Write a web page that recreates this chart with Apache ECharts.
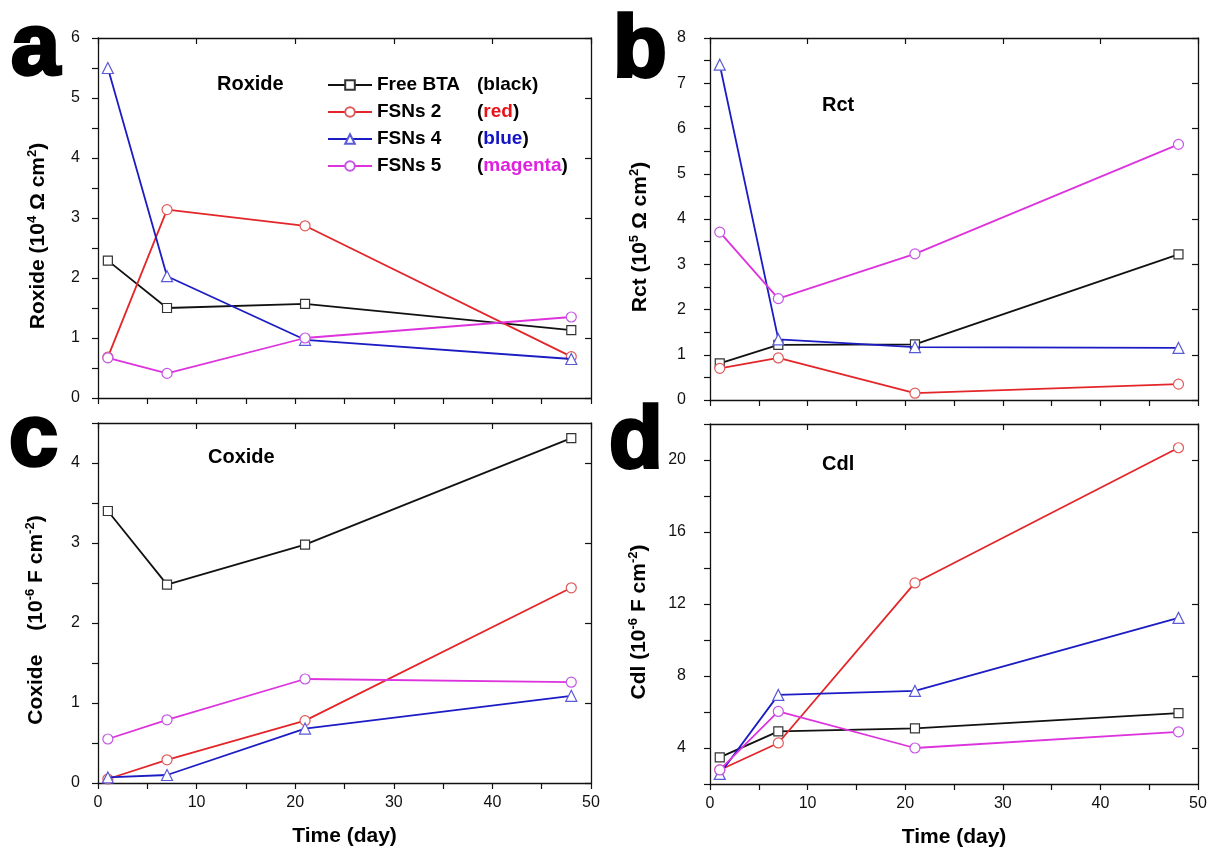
<!DOCTYPE html>
<html><head><meta charset="utf-8">
<script src="https://cdn.jsdelivr.net/npm/echarts@6/dist/echarts.min.js"></script>
<style>html,body{margin:0;padding:0;background:#fff}#c{width:1211px;height:849px}</style>
</head><body><div id="c"></div>
<script>
// ---------------- data ----------------
const days = [1, 7, 21, 48];
const seriesNames = ['Free BTA', 'FSNs 2', 'FSNs 4', 'FSNs 5'];
const colorWords = ['black', 'red', 'blue', 'magenta'];
const xTickLabels = [0, 10, 20, 30, 40, 50];

// panel a: Roxide (10^4 ohm cm^2)
const roxideBTA  = [2.29, 1.50, 1.57, 1.13];
const roxideFSN2 = [0.68, 3.14, 2.87, 0.69];
const roxideFSN4 = [5.50, 2.03, 0.97, 0.65];
const roxideFSN5 = [0.67, 0.41, 1.00, 1.35];
const roxideTicks = [0, 1, 2, 3, 4, 5, 6];

// panel b: Rct (10^5 ohm cm^2)
const rctBTA  = [0.81, 1.22, 1.23, 3.22];
const rctFSN2 = [0.70, 0.93, 0.15, 0.35];
const rctFSN4 = [7.41, 1.34, 1.17, 1.15];
const rctFSN5 = [3.71, 2.24, 3.23, 5.65];
const rctTicks = [0, 1, 2, 3, 4, 5, 6, 7, 8];

// panel c: Coxide (10^-6 F cm^-2)
const coxBTA  = [3.40, 2.48, 2.98, 4.31];
const coxFSN2 = [0.05, 0.29, 0.78, 2.44];
const coxFSN4 = [0.07, 0.10, 0.68, 1.09];
const coxFSN5 = [0.55, 0.79, 1.30, 1.26];
const coxTicks = [0, 1, 2, 3, 4];

// panel d: Cdl (10^-6 F cm^-2)
const cdlBTA  = [3.48, 4.92, 5.09, 5.94];
const cdlFSN2 = [2.78, 4.28, 13.17, 20.68];
const cdlFSN4 = [2.56, 6.95, 7.17, 11.23];
const cdlFSN5 = [2.78, 6.03, 4.00, 4.90];
const cdlTicks = [4, 8, 12, 16, 20];

// ---------------- styling ----------------
const FF = '"Liberation Sans", Arial, Helvetica, sans-serif';
const lineColors = ['#111111', '#e3262a', '#1c1cc4', '#dd33dd'];
const markerBorders = ['#333333', '#e05a5a', '#5a5ad6', '#c555e6'];
const wordColors = ['#000000', '#e8141a', '#1212c8', '#e020e0'];
const symbols = ['rect', 'circle', 'triangle', 'circle'];
const symbolSizes = [9, 10, 11, 10];
const AX = '#111';

const panels = [
  { grid: { left: 98, top: 38, width: 493, height: 360 }, ymin: 0, ymax: 6, yint: 0.5, rint: 1, ticks: roxideTicks, vals: [roxideBTA, roxideFSN2, roxideFSN4, roxideFSN5], xLabels: false, lm: 18 },
  { grid: { left: 710, top: 38, width: 488, height: 362 }, ymin: 0, ymax: 8, yint: 0.5, rint: 1, ticks: rctTicks, vals: [rctBTA, rctFSN2, rctFSN4, rctFSN5], xLabels: false, lm: 24 },
  { grid: { left: 98, top: 423, width: 493, height: 360 }, ymin: 0, ymax: 4.5, yint: 0.5, rint: 0.5, rCustom: coxTicks, ticks: coxTicks, vals: [coxBTA, coxFSN2, coxFSN4, coxFSN5], xLabels: true, lm: 18 },
  { grid: { left: 710, top: 424, width: 488, height: 361 }, ymin: 2, ymax: 22, yint: 2, rint: 2, rCustom: cdlTicks, ticks: cdlTicks, vals: [cdlBTA, cdlFSN2, cdlFSN4, cdlFSN5], xLabels: true, lm: 24 }
];

const grids = [], xAxes = [], yAxes = [], series = [];
panels.forEach((p, g) => {
  grids.push(Object.assign({ containLabel: false }, p.grid));
  xAxes.push({
    type: 'value', gridIndex: g, min: 0, max: 50, interval: 5, position: 'bottom',
    axisLine: { show: true, onZero: false, lineStyle: { color: AX, width: 1.3 } },
    axisTick: { show: true, inside: false, length: 6, lineStyle: { color: AX, width: 1.2 } },
    axisLabel: { show: p.xLabels, margin: 12, fontSize: 16, color: '#111', fontFamily: FF,
      formatter: v => xTickLabels.includes(v) ? String(v) : '' },
    splitLine: { show: false },
    name: p.xLabels ? 'Time (day)' : '', nameLocation: 'middle', nameGap: 43,
    nameTextStyle: { fontFamily: FF, fontSize: 21, fontWeight: 'bold', color: '#000' }
  });
  xAxes.push({
    type: 'value', gridIndex: g, min: 0, max: 50, interval: 10, position: 'top',
    axisLine: { show: true, onZero: false, lineStyle: { color: AX, width: 1.3 } },
    axisTick: { show: true, inside: true, length: 6, lineStyle: { color: AX, width: 1.2 } },
    axisLabel: { show: false }, splitLine: { show: false }
  });
  yAxes.push({
    type: 'value', gridIndex: g, min: p.ymin, max: p.ymax, interval: p.yint, position: 'left',
    axisLine: { show: true, onZero: false, lineStyle: { color: AX, width: 1.3 } },
    axisTick: { show: true, inside: false, length: 6, lineStyle: { color: AX, width: 1.2 } },
    axisLabel: { show: true, margin: p.lm, fontSize: 16, color: '#111', fontFamily: FF,
      formatter: v => p.ticks.includes(v) ? String(v) : '' },
    splitLine: { show: false }
  });
  const rightTick = { show: true, inside: true, length: 6, lineStyle: { color: AX, width: 1.2 } };
  if (p.rCustom) rightTick.customValues = p.rCustom;
  yAxes.push({
    type: 'value', gridIndex: g, min: p.ymin, max: p.ymax, interval: p.rint, position: 'right',
    axisLine: { show: true, onZero: false, lineStyle: { color: AX, width: 1.3 } },
    axisTick: rightTick,
    axisLabel: { show: false }, splitLine: { show: false }
  });
  p.vals.forEach((vals, k) => {
    series.push({
      type: 'line', name: seriesNames[k], xAxisIndex: 2 * g, yAxisIndex: 2 * g,
      data: days.map((d, j) => [d, vals[j]]),
      symbol: symbols[k], symbolSize: symbolSizes[k], showSymbol: true,
      lineStyle: { color: lineColors[k], width: 1.8 },
      itemStyle: { color: '#ffffff', borderColor: markerBorders[k], borderWidth: 1.2 },
      emphasis: { disabled: true }, silent: true, z: 2 + k
    });
  });
});

const titleRich = {
  t: { fontFamily: FF, fontSize: 21, fontWeight: 'bold', fill: '#000' },
  s: { fontFamily: FF, fontSize: 13, fontWeight: 'bold', fill: '#000', verticalAlign: 'top', lineHeight: 24 },
  g: { fontFamily: FF, fontSize: 21, width: 24 }
};
function yTitle(x, y, text) {
  return { type: 'text', x: x, y: y, rotation: Math.PI / 2, z: 10,
    style: { text: text, rich: titleRich, align: 'center', verticalAlign: 'middle',
      fontFamily: FF, fontSize: 21, fontWeight: 'bold', fill: '#000' } };
}
function letter(x, y, ch) {
  return { type: 'text', x: x, y: y, z: 10,
    style: { text: ch, fontFamily: FF, fontSize: 88, fontWeight: 'bold', fill: '#000',
      stroke: '#000', lineWidth: 3.5, align: 'left', verticalAlign: 'middle' } };
}
function inner(x, y, txt) {
  return { type: 'text', x: x, y: y, z: 10,
    style: { text: txt, fontFamily: FF, fontSize: 20, fontWeight: 'bold', fill: '#000',
      align: 'left', verticalAlign: 'middle' } };
}

const legendRich = {
  n: { fontFamily: FF, fontSize: 19, fontWeight: 'bold', color: '#000', width: 100 },
  p: { fontFamily: FF, fontSize: 19, fontWeight: 'bold', color: '#000' }
};
wordColors.forEach((c, i) => {
  legendRich['w' + i] = { fontFamily: FF, fontSize: 19, fontWeight: 'bold', color: c };
});

const option = {
  animation: false,
  backgroundColor: '#ffffff',
  grid: grids, xAxis: xAxes, yAxis: yAxes, series: series,
  legend: {
    data: seriesNames, orient: 'vertical', left: 322, top: 69,
    itemWidth: 44, itemHeight: 12, itemGap: 5, selectedMode: false,
    textStyle: { fontFamily: FF, fontSize: 19, fontWeight: 'bold', color: '#000', lineHeight: 22, rich: legendRich },
    formatter: name => {
      const i = seriesNames.indexOf(name);
      return '{n|' + name + '}{p|(}{w' + i + '|' + colorWords[i] + '}{p|)}';
    }
  },
  graphic: [
    letter(11, 50, 'a'), letter(613, 52, 'b'), letter(9, 441, 'c'), letter(609, 443, 'd'),
    inner(217, 84, 'Roxide'), inner(822, 105, 'Rct'), inner(208, 457, 'Coxide'), inner(822, 464, 'Cdl'),
    yTitle(38, 236, '{t|Roxide (10}{s|4}{t| Ω cm}{s|2}{t|)}'),
    yTitle(640, 237, '{t|Rct (10}{s|5}{t| Ω cm}{s|2}{t|)}'),
    yTitle(36, 620, '{t|Coxide}{g| }{t|(10}{s|-6}{t| F cm}{s|-2}{t|)}'),
    yTitle(639, 622, '{t|Cdl (10}{s|-6}{t| F cm}{s|-2}{t|)}')
  ]
};
const chart = echarts.init(document.getElementById('c'), null, { renderer: 'canvas' });
chart.setOption(option);
</script></body></html>
